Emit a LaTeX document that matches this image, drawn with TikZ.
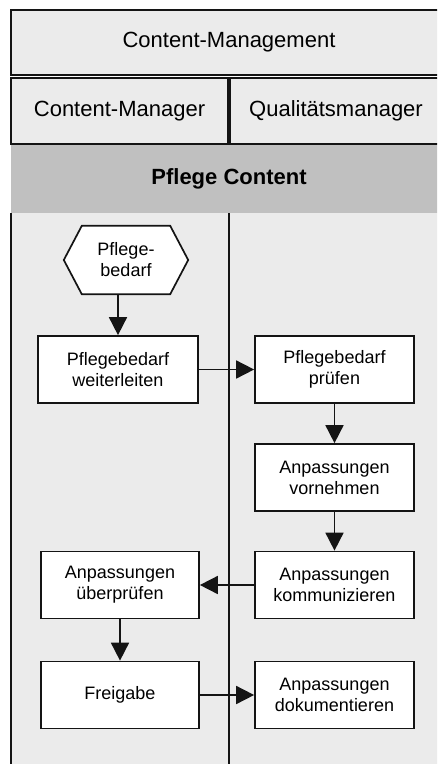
\documentclass[tikz,border=0pt]{standalone}
\usepackage{fontspec}
\setmainfont{Liberation Sans}
\usetikzlibrary{arrows.meta}
\definecolor{cellgray}{HTML}{EBEBEB}
\definecolor{bandgray}{HTML}{C0C0C0}
\definecolor{ink}{HTML}{141414}
\begin{document}
\begin{tikzpicture}[x=1pt,y=-1pt,
  hdrcell/.style={draw=ink, line width=1.7pt, fill=cellgray, inner sep=0pt,
    font=\fontsize{22}{26}\selectfont},
  stepbox/.style={draw=ink, line width=1.7pt, fill=white, inner sep=0pt,
    minimum width=159pt, minimum height=67pt, align=center,
    font=\fontsize{18}{21}\selectfont},
  flow/.style={draw=ink, line width=1.7pt, -{Triangle[length=18pt,width=18pt]}}
]
\clip (0,0) rectangle (437,764);
\fill[white] (0,0) rectangle (437,764);
% header
\node[hdrcell, minimum width=436pt, minimum height=65pt] (title) at (229,42.5) {Content-Management};
\node[hdrcell, minimum width=217pt, minimum height=66pt] (cm) at (119.5,111) {Content-Manager};
\node[hdrcell, minimum width=212pt, minimum height=66pt] (qm) at (336,111) {Qualitätsmanager};
\node[fill=bandgray, inner sep=0pt, minimum width=436pt, minimum height=68pt,
  font=\fontsize{22}{26}\selectfont\bfseries] (band) at (229,179) {Pflege Content};
% lanes
\fill[cellgray] (11,213) rectangle (450,764);
\draw[ink, line width=1.7pt] (11,213) -- (11,764);
\draw[ink, line width=1.7pt] (229,213) -- (229,764);
% start event (hexagon)
\node[inner sep=0pt, minimum width=88pt, minimum height=68pt] (hex) at (126,260) {};
\filldraw[draw=ink, fill=white, line width=1.7pt, line join=miter]
  (hex.north west) -- (hex.north east) -- ([xshift=18pt]hex.east) -- (hex.south east)
  -- (hex.south west) -- ([xshift=-18pt]hex.west) -- cycle;
\node[inner sep=0pt, align=center, font=\fontsize{18}{21}\selectfont] (hextext) at (hex) {Pflege-\\bedarf};
% tasks
\node[stepbox, minimum width=160pt] (b1) at (118,369.5) {Pflegebedarf\\weiterleiten};
\node[stepbox] (b2) at (334.5,369.5) {Pflegebedarf\\prüfen};
\node[stepbox] (b3) at (334.5,477.5) {Anpassungen\\vornehmen};
\node[stepbox] (b4) at (334.5,585) {Anpassungen\\kommunizieren};
\node[stepbox, minimum width=158pt] (b5) at (120,585) {Anpassungen\\überprüfen};
\node[stepbox, minimum width=158pt] (b6) at (120,695) {Freigabe};
\node[stepbox] (b7) at (334.5,695) {Anpassungen\\dokumentieren};
% connectors
\draw[flow] (hex.south -| b1.north) -- (b1.north);
\draw[flow] (b1.east) -- (b2.west);
\draw[flow] (b2.south) -- (b3.north);
\draw[flow] (b3.south) -- (b4.north);
\draw[flow] (b4.west) -- (b5.east);
\draw[flow] (b5.south) -- (b6.north);
\draw[flow] (b6.east) -- (b7.west);
\end{tikzpicture}
\end{document}
